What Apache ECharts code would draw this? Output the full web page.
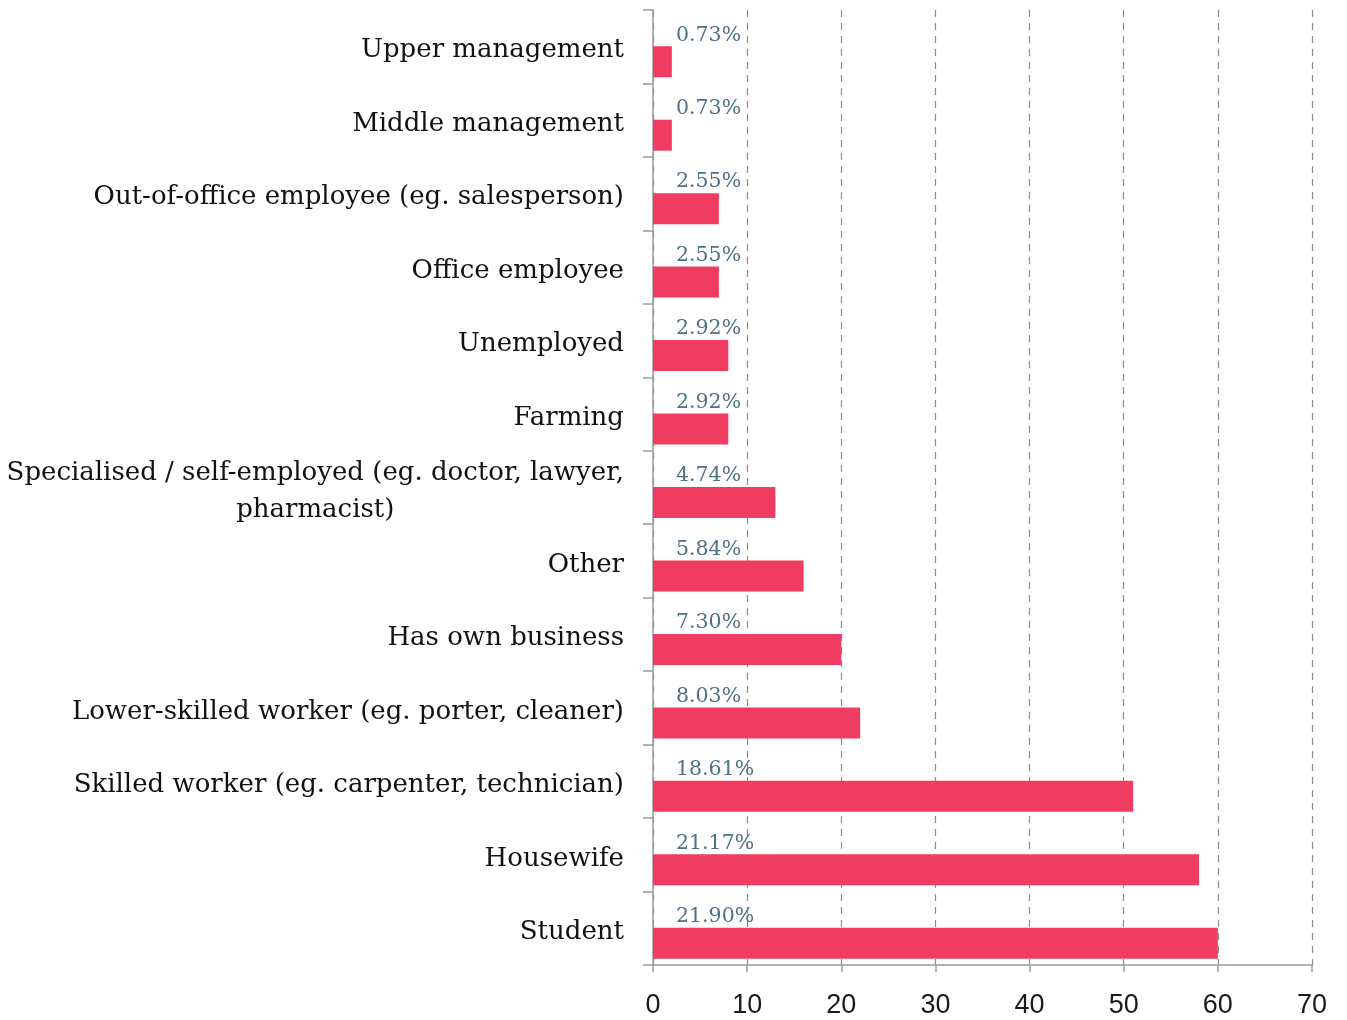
<!DOCTYPE html>
<html>
<head>
<meta charset="utf-8">
<script src="https://cdn.jsdelivr.net/npm/echarts@6/dist/echarts.min.js"></script>
<style>
  html, body { margin: 0; padding: 0; background: #fff; }
  #chart { width: 1347px; height: 1020px; }
</style>
</head>
<body>
<div id="chart"></div>
<script>
const categories = [
  'Upper management',
  'Middle management',
  'Out-of-office employee (eg. salesperson)',
  'Office employee',
  'Unemployed',
  'Farming',
  'Specialised / self-employed (eg. doctor, lawyer,\npharmacist)',
  'Other',
  'Has own business',
  'Lower-skilled worker (eg. porter, cleaner)',
  'Skilled worker (eg. carpenter, technician)',
  'Housewife',
  'Student',
]
const counts = [2, 2, 7, 7, 8, 8, 13, 16, 20, 22, 51, 58, 60]
const percentLabels = ['0.73%', '0.73%', '2.55%', '2.55%', '2.92%', '2.92%', '4.74%', '5.84%', '7.30%', '8.03%', '18.61%', '21.17%', '21.90%']
const xTicks = { min: 0, max: 70, interval: 10 }

const serif = '"DejaVu Serif", "Liberation Serif", serif'
const axisGray = '#9a9a9a'

// multi-line category labels are centred line by line, the rest right aligned
function categoryLabel(value) {
  if (value.indexOf('\n') < 0) return value
  return value.split('\n').map((line) => '{c|' + line + '}').join('\n')
}

const chart = echarts.init(document.getElementById('chart'))

chart.setOption({
  animation: false,
  grid: [
    // axes grid
    { left: 653, right: 35, top: 10, bottom: 55 },
    // bars sit in the lower half of each band, so shift this grid down a bit
    { left: 653, right: 35, top: 25, bottom: 40 },
  ],
  xAxis: [
    {
      gridIndex: 0,
      type: 'value',
      min: xTicks.min,
      max: xTicks.max,
      interval: xTicks.interval,
      axisLine: { show: true, lineStyle: { color: axisGray, width: 1.5 } },
      axisTick: { show: true, length: 7, lineStyle: { color: axisGray, width: 1.5 } },
      axisLabel: {
        margin: 27,
        color: '#1a1a1a',
        fontSize: 27,
        fontFamily: '"Liberation Sans", Arial, sans-serif',
      },
      splitLine: {
        show: true,
        lineStyle: { color: '#8c8c8c', type: [7, 6], width: 1.2 },
      },
    },
    {
      gridIndex: 1,
      type: 'value',
      min: xTicks.min,
      max: xTicks.max,
      show: false,
    },
  ],
  yAxis: [
    {
      gridIndex: 0,
      type: 'category',
      inverse: true,
      data: categories,
      axisLine: { show: true, lineStyle: { color: axisGray, width: 1.5 } },
      axisTick: { show: true, length: 10, lineStyle: { color: axisGray, width: 1.5 } },
      axisLabel: {
        margin: 29,
        color: '#111',
        fontSize: 26,
        fontFamily: serif,
        lineHeight: 37,
        padding: [8, 0, 0, 0],
        formatter: categoryLabel,
        rich: {
          c: {
            align: 'center',
            color: '#111',
            fontSize: 26,
            fontFamily: serif,
            lineHeight: 37,
          },
        },
      },
    },
    {
      gridIndex: 1,
      type: 'category',
      inverse: true,
      data: categories,
      show: false,
    },
  ],
  series: [
    {
      type: 'bar',
      xAxisIndex: 1,
      yAxisIndex: 1,
      data: counts,
      barWidth: 31,
      itemStyle: { color: '#f03c61' },
      label: {
        show: true,
        position: [23, -11],
        verticalAlign: 'middle',
        align: 'left',
        color: '#4d7282',
        fontSize: 20.5,
        fontFamily: serif,
        formatter: (p) => percentLabels[p.dataIndex],
      },
    },
  ],
})
</script>
</body>
</html>
